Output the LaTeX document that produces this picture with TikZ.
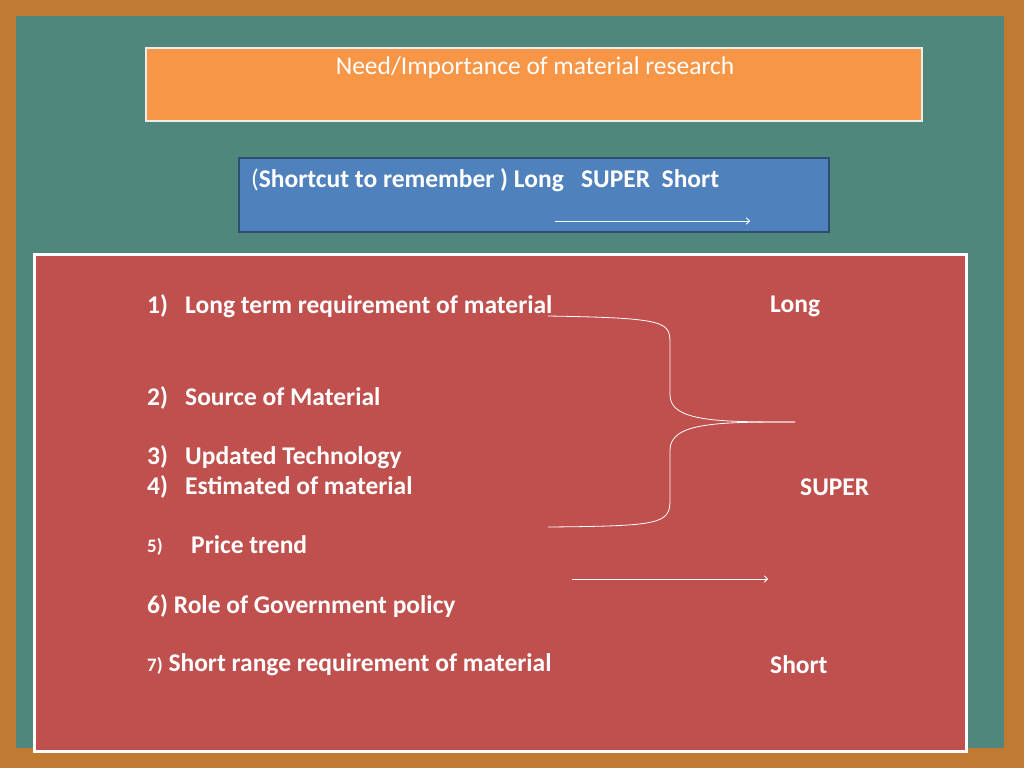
\documentclass[tikz,border=0pt]{standalone}
\usepackage{fontspec}
\setmainfont{Carlito}
\usetikzlibrary{positioning, arrows}
\definecolor{wood}{HTML}{C07A34}
\definecolor{board}{HTML}{4F877C}
\definecolor{titleorange}{HTML}{F79646}
\definecolor{shortblue}{HTML}{4F81BD}
\definecolor{listred}{HTML}{C0504D}
\newcommand{\itemno}[1]{\makebox[38pt][l]{#1}}
\tikzset{
x=1pt, y=-1pt,
item/.style={anchor=west, inner sep=0pt, text=white, font=\fontsize{25.5}{30}\selectfont\bfseries}, % list entries
key/.style={item}, % words on the right
thin arrow/.style={->, >=angle 90, white, line width=0.8pt},
}

\begin{document}
\begin{tikzpicture}
\useasboundingbox (0,0) rectangle (1024,768);
\fill[wood] (0,0) rectangle (1024,768);
\fill[board] (16,16) rectangle (1004,748);

\node[draw=white!85!gray, line width=2pt, fill=titleorange, minimum width=776, minimum height=73,
      anchor=north west, inner sep=0pt] (title) at (145,47) {};
\node[text=white, font=\fontsize{25.5}{30}\selectfont] (titletext) at (535,68) {Need/Importance of material research};

\node[draw=shortblue!60!black, line width=1.5pt, fill=shortblue, minimum width=590, minimum height=74,
      anchor=north west, inner sep=0pt] (shortcut) at (238,157) {};
\node[item] (shortcuttext) at (251,180) {\mdseries(\bfseries Shortcut to remember ) Long\ \ \ SUPER\ \ Short};
\coordinate (sa) at (555,221);
\coordinate (sb) at (750,221);
\draw[thin arrow] (sa) -- (sb);

\node[draw=white, line width=2.5pt, fill=listred, minimum width=932, minimum height=497,
      anchor=north west, inner sep=0pt] (list) at (33,253) {};

\node[item] (i1) at (147,306) {\itemno{1)}Long term requirement of material};
\node[item] (i2) at (147,398) {\itemno{2)}Source of Material};
\node[item] (i3) at (147,457) {\itemno{3)}Updated Technology};
\node[item] (i4) at (147,487) {\itemno{4)}Estimated of material};
\node[item, font=\fontsize{19}{22}\selectfont\bfseries] (i5) at (147,547) {5)};
\node[item] (i5b) at (191,545) {Price trend};
\node[item] (i6) at (147,606) {6) Role of Government policy};
\node[item] (i7) at (147,665) {{\fontsize{19}{22}\selectfont 7)} Short range requirement of material};

\node[key] (long) at (770,306) {Long};
\node[key] (super) at (800,487) {SUPER};
\node[key] (short) at (770,665) {Short};

% brace joining the middle items
\coordinate (btop) at (548,316);
\coordinate (bmid) at (795,422);
\coordinate (bbot) at (548,527);
\draw[white, line width=0.8pt] (btop) .. controls (670,318) and (670,322) .. (670,345)
   -- (670,395) .. controls (670,422) and (720,422) .. (bmid);
\draw[white, line width=0.8pt] (bmid) .. controls (720,422) and (670,422) .. (670,450)
   -- (670,500) .. controls (670,524) and (660,526) .. (bbot);

\coordinate (pa) at (572,579);
\coordinate (pb) at (768,579);
\draw[thin arrow] (pa) -- (pb);
\end{tikzpicture}
\end{document}
